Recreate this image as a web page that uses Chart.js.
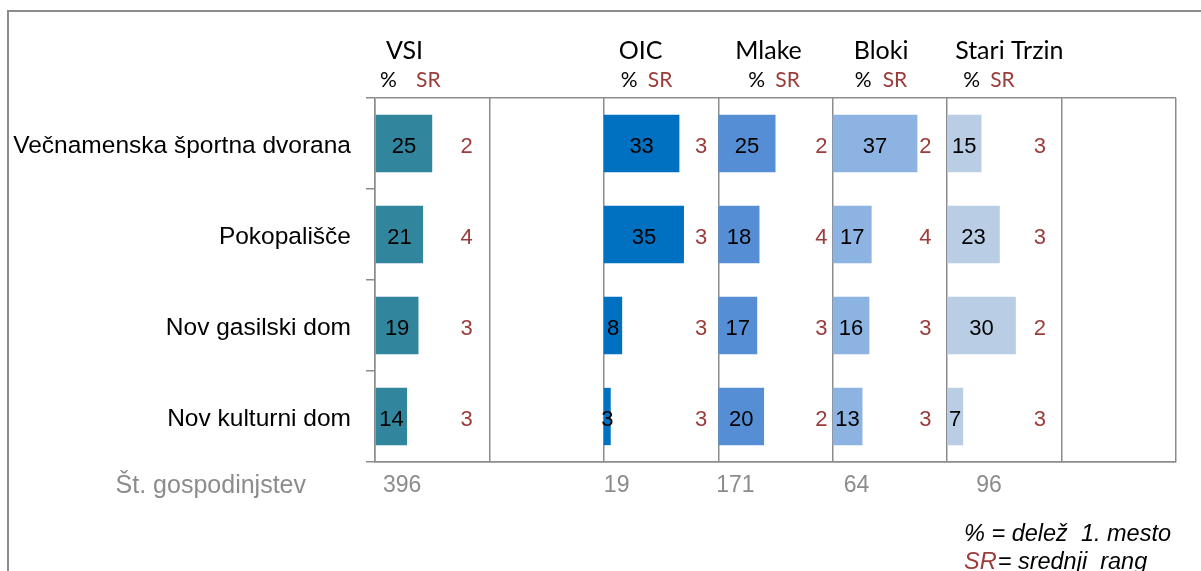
<!DOCTYPE html>
<html>
<head>
<meta charset="utf-8">
<script src="https://cdn.jsdelivr.net/npm/chart.js@4/dist/chart.umd.min.js"></script>
<style>
  body { margin: 0; background: #fff; overflow: hidden; }
  #okvir { position: absolute; left: 7px; top: 10px; width: 1400px; height: 800px; border: 2px solid #8c8c8c; }
  #graf { position: absolute; left: 0; top: 0; }
</style>
</head>
<body>
<div id="okvir"></div>
<canvas id="graf" width="1201" height="571"></canvas>
<script>
// podatki
const kategorije = ['Večnamenska športna dvorana', 'Pokopališče', 'Nov gasilski dom', 'Nov kulturni dom'];
const obmocja = ['VSI', 'OIC', 'Mlake', 'Bloki', 'Stari Trzin'];
const delezVSI = [25, 21, 19, 14];
const delezOIC = [33, 35, 8, 3];
const delezMlake = [25, 18, 17, 20];
const delezBloki = [37, 17, 16, 13];
const delezStariTrzin = [15, 23, 30, 7];
const srVSI = [2, 4, 3, 3];
const srOIC = [3, 3, 3, 3];
const srMlake = [2, 4, 3, 2];
const srBloki = [2, 4, 3, 3];
const srStariTrzin = [3, 3, 2, 3];
const gospodinjstva = [396, 19, 171, 64, 96];

const delezi = [delezVSI, delezOIC, delezMlake, delezBloki, delezStariTrzin];
const srednjiRang = [srVSI, srOIC, srMlake, srBloki, srStariTrzin];

// postavitev (ni podatkov)
const SIRINA = 50;                 // enot na stolpec
const stolpec = [0, 2, 3, 4, 5];   // 7 stolpcev, 1 in 6 prazna
const barve = ['#31859C', '#0070C0', '#558ED5', '#8DB3E2', '#B9CDE5'];
const srOdmik = [40, 42.5, 45, 40.5, 40.5];   // v enotah osi
const naslovOdmik = [11, 15, 17, 21, 8];      // px od začetka stolpca
const odstotekOdmik = [5, 17, 30, 22, 16];
const srNaslovOdmik = [41, 44, 57, 50, 43];
const nOdmik = [8, 0, -2, 11, 29];
const SIVA = '#8c8c8c';
const RDECA = '#9b3b3a';
const ARIAL = '"Liberation Sans", Arial, sans-serif';
const CALIBRI = 'Lato, "Open Sans", sans-serif';

const datasets = obmocja.map((ime, k) => ({
  label: ime,
  data: delezi[k].map(v => [stolpec[k] * SIRINA, stolpec[k] * SIRINA + v]),
  backgroundColor: barve[k],
  borderWidth: 0,
  grouped: false,
  categoryPercentage: 1,
  barPercentage: 0.63,
}));

const oznake = {
  id: 'oznake',
  afterDatasetsDraw(chart) {
    const { ctx, chartArea, scales: { x } } = chart;
    ctx.save();

    datasets.forEach((ds, k) => {
      const meta = chart.getDatasetMeta(k);
      const zacetek = stolpec[k] * SIRINA;
      ctx.textBaseline = 'middle';
      ctx.textAlign = 'center';
      ctx.font = '22px ' + ARIAL;
      meta.data.forEach((bar, i) => {
        ctx.fillStyle = '#000';
        ctx.fillText(String(delezi[k][i]), (bar.x + bar.base) / 2, bar.y + 3);
        ctx.fillStyle = RDECA;
        ctx.fillText(String(srednjiRang[k][i]), x.getPixelForValue(zacetek + srOdmik[k]), bar.y + 3);
      });

      const levo = x.getPixelForValue(zacetek);
      // naslovi
      ctx.textAlign = 'left';
      ctx.textBaseline = 'alphabetic';
      ctx.fillStyle = '#000';
      ctx.font = '25px ' + CALIBRI;
      ctx.fillText(obmocja[k], levo + naslovOdmik[k], 59);
      ctx.font = '21px ' + CALIBRI;
      ctx.fillText('%', levo + odstotekOdmik[k], 87);
      ctx.fillStyle = RDECA;
      ctx.fillText('SR', levo + srNaslovOdmik[k], 87);

      // število gospodinjstev
      ctx.font = '23px ' + ARIAL;
      ctx.fillStyle = SIVA;
      ctx.textBaseline = 'middle';
      ctx.fillText(String(gospodinjstva[k]), levo + nOdmik[k], chartArea.bottom + 24);
    });

    ctx.font = '25px ' + ARIAL;
    ctx.fillStyle = SIVA;
    ctx.textAlign = 'right';
    ctx.textBaseline = 'middle';
    ctx.fillText('Št. gospodinjstev', chartArea.left - 69, chartArea.bottom + 24);

    // legenda
    ctx.textAlign = 'left';
    ctx.font = 'italic 23.5px ' + ARIAL;
    ctx.fillStyle = '#000';
    ctx.fillText('% = delež  1. mesto', 964, 534);
    ctx.fillStyle = RDECA;
    ctx.fillText('SR', 964, 562);
    const w = ctx.measureText('SR').width;
    ctx.fillStyle = '#000';
    ctx.fillText('= srednji  rang', 964 + w + 1, 562);
    ctx.restore();
  }
};

new Chart(document.getElementById('graf'), {
  type: 'bar',
  data: { labels: kategorije, datasets },
  options: {
    indexAxis: 'y',
    responsive: false,
    animation: false,
    layout: { padding: { top: 98, right: 25, bottom: 109, left: 0 } },
    plugins: { legend: { display: false }, tooltip: { enabled: false } },
    scales: {
      x: {
        type: 'linear',
        min: 0,
        max: SIRINA * 7,
        ticks: { display: false, stepSize: SIRINA },
        grid: { color: SIVA, lineWidth: 1.5, drawTicks: false },
        border: { display: true, color: SIVA, width: 1.5 },
        afterFit: (s) => { s.height = 0; },
      },
      y: {
        type: 'category',
        ticks: { color: '#000', font: { family: ARIAL, size: 24.5 }, padding: 15, labelOffset: 3 },
        grid: {
          offset: true,
          lineWidth: 1.5,
          tickLength: 9,
          tickColor: SIVA,
          color: (c) => (c.type !== 'tick' || c.index === 0) ? SIVA : 'rgba(0,0,0,0)',
        },
        border: { display: true, color: SIVA, width: 1.5 },
        afterFit: (s) => { s.width = 375; },
      },
    },
  },
  plugins: [oznake],
});
</script>
</body>
</html>
